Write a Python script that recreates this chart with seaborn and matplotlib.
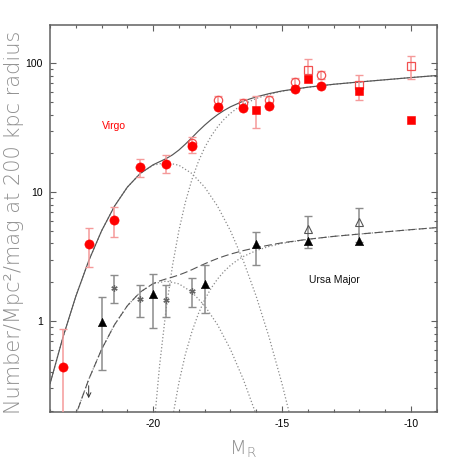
import matplotlib
matplotlib.use("Agg")
import matplotlib.pyplot as plt
import matplotlib.ticker as ticker
import seaborn as sns

# ---- values ----
# Virgo, filled circles and the error bars that go with each magnitude bin
virgo_M = [-23.5, -22.5, -21.5, -20.5, -19.5, -18.5, -17.5, -16.5, -15.5, -14.5, -13.5]
virgo_filled = [0.44, 3.95, 6.1, 15.6, 16.6, 22.7, 45.8, 45.0, 46.7, 62.9, 66.7]
virgo_err_lo = [0.05, 2.62, 4.45, 13.0, 14.2, 20.2, 48.5, 46.5, 48.5, 67.0, 75.2]
virgo_err_hi = [0.87, 5.23, 7.7, 18.2, 19.5, 26.7, 55.5, 53.2, 55.5, 76.9, 87.8]
virgo_open_M = [-18.5, -17.5, -16.5, -15.5, -14.5, -13.5]
virgo_open = [24.0, 51.6, 49.2, 51.6, 71.6, 81.7]

# Virgo squares
sq_M = [-16, -14, -12, -10]
sq_filled = [43.2, 76.1, 61.0, 36.6]
sq_err_lo = [31.7, 80.7, 51.6, 76.1]
sq_err_hi = [55.5, 107.0, 81.7, 113.0]
sq_open_M = [-14, -12, -10]
sq_open = [89.4, 67.5, 94.8]

# Ursa Major triangles
uma_M = [-22, -20, -18, -16, -14, -12]
uma_filled = [0.98, 1.62, 1.94, 3.93, 4.19, 4.17]
uma_err_lo = [0.417, 0.877, 1.15, 2.72, 3.70, 4.10]
uma_err_hi = [1.53, 2.31, 2.72, 4.92, 6.55, 7.48]
uma_open_M = [-14, -12]
uma_open = [5.17, 5.89]

# Ursa Major asterisks
star_M = [-21.5, -20.5, -19.5, -18.5]
star_val = [1.81, 1.47, 1.45, 1.71]
star_lo = [1.37, 1.07, 1.07, 1.29]
star_hi = [2.26, 1.90, 1.90, 2.17]

# upper limit (arrow tip)
limit_M = [-22.5]
limit_val = [0.252]

# fitted curves
gauss_M = [-24, -23.5, -23, -22.5, -22, -21.5, -21, -20.5, -20, -19.5,
           -19, -18.5, -18, -17.5, -17, -16.5, -16, -15.5, -15, -14.5]
virgo_gauss = [0.326, 0.747, 1.553, 2.931, 5.012, 7.78, 10.94, 13.97, 16.18, 16.98,
               16.18, 13.97, 10.94, 7.78, 5.012, 2.931, 1.553, 0.747, 0.326, 0.129]
uma_gauss = [0.039, 0.090, 0.187, 0.352, 0.603, 0.935, 1.315, 1.679, 1.945, 2.042,
             1.945, 1.679, 1.315, 0.935, 0.603, 0.352, 0.187, 0.090, 0.039, 0.0155]

sch_M = [-20, -19.75, -19.5, -19.25, -19, -18.75, -18.5, -18.25, -18, -17.75, -17.5, -17.25,
         -17, -16.75, -16.5, -16, -15.5, -15, -14, -13, -12, -11, -10, -9]
virgo_sch = [0.129, 0.451, 1.219, 2.685, 5.047, 8.356, 12.45, 17.18, 22.18, 27.23, 32.14, 36.73,
             40.93, 44.64, 47.97, 53.33, 57.41, 60.67, 65.16, 68.71, 71.61, 74.47, 77.45, 80.35]
uma_sch = [0.0086, 0.030, 0.081, 0.177, 0.333, 0.552, 0.822, 1.135, 1.466, 1.799, 2.123, 2.427,
           2.704, 2.951, 3.170, 3.524, 3.793, 4.009, 4.305, 4.539, 4.732, 4.920, 5.117, 5.309]

total_M = [-24, -23.5, -23, -22.5, -22, -21.5, -21, -20.5, -20, -19.75, -19.5, -19.25, -19,
           -18.75, -18.5, -18.25, -18, -17.75, -17.5, -17.25, -17, -16.5, -16, -15.5, -15,
           -14, -13, -12, -11, -10, -9]
virgo_total = [0.326, 0.747, 1.553, 2.931, 5.012, 7.78, 10.94, 13.97, 16.31, 17.23, 18.20, 19.47, 21.23,
               23.58, 26.42, 29.70, 33.12, 36.57, 39.92, 43.05, 45.94, 50.90, 54.88, 58.16, 61.00,
               65.21, 68.71, 71.61, 74.47, 77.45, 80.35]
uma_total = [0.039, 0.090, 0.187, 0.352, 0.603, 0.935, 1.315, 1.679, 1.954, 2.047, 2.123, 2.194, 2.278,
             2.381, 2.501, 2.640, 2.781, 2.922, 3.058, 3.187, 3.307, 3.522, 3.711, 3.883, 4.048,
             4.31, 4.539, 4.732, 4.920, 5.117, 5.309]

x_ticks = [-20, -15, -10]

# ---- style ----
sns.set_style("ticks")
plt.rcParams['font.family'] = ['Liberation Sans', 'DejaVu Sans']
plt.rcParams['axes.unicode_minus'] = False

red = '#ff0000'
pink = '#f59a9a'
line_grey = '#555555'
dot_grey = '#8a8a8a'
bar_grey = '#8c8c8c'

fig = plt.figure(figsize=(4.61, 4.61), dpi=100)
ax = fig.add_axes([0.1085, 0.1069, 0.8388, 0.8388])
ax.set_yscale('log')

# model components (dotted)
for M, vals in [(gauss_M, virgo_gauss), (sch_M, virgo_sch), (gauss_M, uma_gauss), (sch_M, uma_sch)]:
    sns.lineplot(x=M, y=vals, ax=ax, color=dot_grey, lw=0.9, errorbar=None, zorder=2)
    ax.lines[-1].set_dashes([1, 1.7])

# totals
sns.lineplot(x=total_M, y=virgo_total, ax=ax, color=line_grey, lw=0.85, errorbar=None, zorder=2)
sns.lineplot(x=total_M, y=uma_total, ax=ax, color=line_grey, lw=0.8, errorbar=None, zorder=2)
ax.lines[-1].set_dashes([7, 3])

# error bars
def bars(M, lo, hi, color):
    ax.errorbar(M, lo, yerr=[[0] * len(lo), [h - l for l, h in zip(lo, hi)]],
                fmt='none', ecolor=color, elinewidth=1.1, capsize=2.6, capthick=1.0, zorder=3)

bars(virgo_M, virgo_err_lo, virgo_err_hi, pink)
bars(sq_M, sq_err_lo, sq_err_hi, pink)
bars(uma_M, uma_err_lo, uma_err_hi, bar_grey)
bars(star_M, star_lo, star_hi, bar_grey)

# Virgo symbols
sns.scatterplot(x=virgo_M, y=virgo_filled, ax=ax, color=red, s=44, marker='o',
                edgecolor=red, linewidth=0.4, zorder=5)
ax.plot(virgo_open_M, virgo_open, 'o', ms=6, mfc='none', mec='#f25050', mew=0.9, zorder=4)
sns.scatterplot(x=sq_M, y=sq_filled, ax=ax, color=red, s=34, marker='s',
                edgecolor=red, linewidth=0.4, zorder=5)
ax.plot(sq_open_M, sq_open, 's', ms=5.6, mfc='none', mec='#f25050', mew=0.9, zorder=4)

# Ursa Major symbols
sns.scatterplot(x=uma_M, y=uma_filled, ax=ax, color='black', s=36, marker='^',
                edgecolor='black', linewidth=0.4, zorder=5)
ax.plot(uma_open_M, uma_open, '^', ms=6, mfc='none', mec='#555555', mew=0.8, zorder=4)
ax.plot(star_M, star_val, ls='none', marker=(6, 2, 0), ms=4.5, mec='#666666', mew=0.9, zorder=5)
for m, v in zip(limit_M, limit_val):
    ax.annotate('', xy=(m, v), xytext=(0, 9), textcoords='offset points',
                arrowprops=dict(arrowstyle='->', lw=0.7, color='#333333',
                                shrinkA=0, shrinkB=0, mutation_scale=8))

ax.text(-21.52, 32.5, 'Virgo', color=red, fontsize=7.5, ha='center', va='center')
ax.text(-12.97, 2.08, 'Ursa Major', color='#111111', fontsize=7.5, ha='center', va='center')

# axes
ax.set_xlim(-24, -9)
ax.set_ylim(0.198, 198)
ax.xaxis.set_major_locator(ticker.FixedLocator(x_ticks))
ax.xaxis.set_minor_locator(ticker.MultipleLocator(1))
ax.yaxis.set_major_locator(ticker.LogLocator(base=10))
ax.yaxis.set_minor_locator(ticker.LogLocator(base=10, subs=range(2, 10)))
ax.yaxis.set_major_formatter(ticker.FuncFormatter(lambda v, p: f'{v:g}'))
ax.yaxis.set_minor_formatter(ticker.NullFormatter())
ax.tick_params(which='both', direction='in', top=True, right=True,
               color='#606060', labelcolor='black', labelsize=7.5, width=0.8, pad=5)
ax.tick_params(which='major', length=4.5)
ax.tick_params(which='minor', length=2.5)
for sp in ax.spines.values():
    sp.set_color('#606060')
    sp.set_linewidth(1.1)

ax.set_ylabel('Number/Mpc²/mag at 200 kpc radius', fontsize=15, color='#8f8f8f',
              family=['DejaVu Sans'], fontweight='light')
ax.yaxis.set_label_coords(-0.068, 0.49)
ax.set_xlabel(r'M$_{\mathregular{R}}$', fontsize=14, color='#8f8f8f',
              family=['DejaVu Sans'], fontweight='light')
ax.xaxis.set_label_coords(0.5, -0.07)

fig.savefig('out.png', dpi=100)
